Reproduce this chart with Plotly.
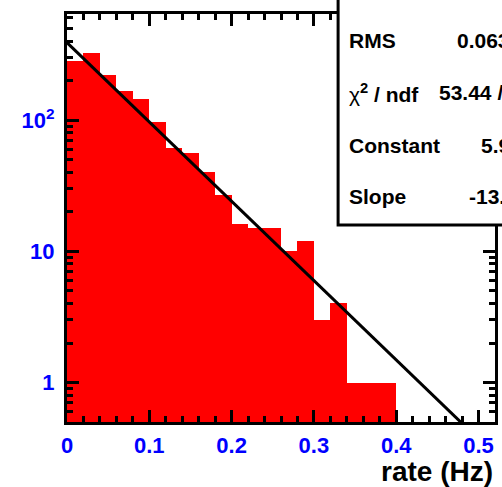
import numpy as np
import plotly.graph_objects as go

# ---- data ----
bin_width = 0.02
bin_lefts = [0.00, 0.02, 0.04, 0.06, 0.08, 0.10, 0.12, 0.14, 0.16, 0.18,
             0.20, 0.22, 0.24, 0.26, 0.28, 0.30, 0.32, 0.34, 0.36, 0.38]
counts = [282, 327, 221, 167, 144, 96, 61, 56, 40, 27,
          16, 15, 15, 10, 12, 3, 4, 1, 1, 1]

fit_constant = 5.964   # expo fit: exp(constant + slope * x)
fit_slope = -13.92

x_tickvals = [0, 0.1, 0.2, 0.3, 0.4, 0.5]
x_ticktext = ["0", "0.1", "0.2", "0.3", "0.4", "0.5"]
y_tickvals = [1, 10, 100]
y_ticktext = ["1", "10", "10<sup>2</sup>"]
y_minor = [0.5, 0.6, 0.7, 0.8, 0.9, 2, 3, 4, 5, 6, 7, 8, 9,
           20, 30, 40, 50, 60, 70, 80, 90, 200, 300, 400, 500, 600]

stats_labels = ["RMS", "<span style='font-weight:normal'>χ</span><sup>2</sup> / ndf", "Constant", "Slope"]
stats_values = ["0.06326", "53.44 / 18", "5.964 ± 0.058", "-13.92 ± 0.43"]

# ---- layout geometry (pixels) ----
W, H = 502, 487
ML, MR, MT, MB = 67, 4, 14, 65
PW, PH = W - ML - MR, H - MT - MB

def px(xp):
    return (xp - ML) / PW

def py(yp):
    return (H - MB - yp) / PH

centers = [l + bin_width / 2 for l in bin_lefts]

fig = go.Figure()
fig.add_trace(go.Bar(
    x=centers, y=counts, width=bin_width,
    marker=dict(color="#ff0000", line=dict(width=0)),
    hoverinfo="x+y", showlegend=False,
))

xf = np.linspace(0, 0.52, 200)
yf = np.exp(fit_constant + fit_slope * xf)
fig.add_trace(go.Scatter(
    x=xf, y=yf, mode="lines",
    line=dict(color="black", width=3), showlegend=False,
))

font_family = "Liberation Sans, Arial, sans-serif"

fig.update_layout(
    width=W, height=H,
    margin=dict(l=ML, r=MR, t=MT, b=MB),
    paper_bgcolor="white", plot_bgcolor="white",
    bargap=0,
    font=dict(family=font_family),
)
fig.update_xaxes(
    range=[0, 0.52],
    tickmode="array", tickvals=x_tickvals, ticktext=x_ticktext,
    ticks="inside", ticklen=12, tickwidth=2.5, tickcolor="black",
    minor=dict(ticks="inside", ticklen=6, tickwidth=2.5, tickcolor="black",
               dtick=0.02, tick0=0, showgrid=False),
    showline=True, linewidth=3, linecolor="black", mirror="ticks",
    showgrid=False, zeroline=False,
    tickfont=dict(color="#0000ff", size=22, weight="bold", family=font_family),
    ticklabelstandoff=2,
)
fig.update_yaxes(
    type="log", range=[np.log10(0.5), np.log10(643)],
    tickmode="array", tickvals=y_tickvals, ticktext=y_ticktext,
    ticks="inside", ticklen=12, tickwidth=2.5, tickcolor="black",
    minor=dict(ticks="inside", ticklen=6, tickwidth=2.5, tickcolor="black",
               tickmode="array", tickvals=y_minor, showgrid=False),
    showline=True, linewidth=3, linecolor="black", mirror="ticks",
    showgrid=False, zeroline=False,
    tickfont=dict(color="#0000ff", size=22, weight="bold", family=font_family),
    ticklabelstandoff=5,
)

# x-axis title at lower right
fig.add_annotation(
    text="rate (Hz)", xref="paper", yref="paper",
    x=px(498), y=py(471), xanchor="right", yanchor="middle",
    showarrow=False, font=dict(size=28, color="black", weight="bold", family=font_family),
)

# stats box
fig.add_shape(
    type="rect", xref="paper", yref="paper",
    x0=px(340), x1=px(560), y0=py(225), y1=py(-40),
    line=dict(color="black", width=3), fillcolor="white", layer="above",
)
row_y = [40, 93, 145.5, 197]
value_x = [458, 440, 482, 470]
for lab, val, ry, vx in zip(stats_labels, stats_values, row_y, value_x):
    fig.add_annotation(
        text=lab, xref="paper", yref="paper", x=px(349), y=py(ry),
        xanchor="left", yanchor="middle", showarrow=False,
        font=dict(size=21, color="black", weight="bold", family=font_family),
    )
    fig.add_annotation(
        text=val, xref="paper", yref="paper", x=px(vx), y=py(ry),
        xanchor="left", yanchor="middle", showarrow=False,
        font=dict(size=21, color="black", weight="bold", family=font_family),
    )

fig.write_html(
    "out.html",
    config={"displayModeBar": False},
    post_script="document.body.style.margin='0';document.body.style.overflow='hidden';",
)
